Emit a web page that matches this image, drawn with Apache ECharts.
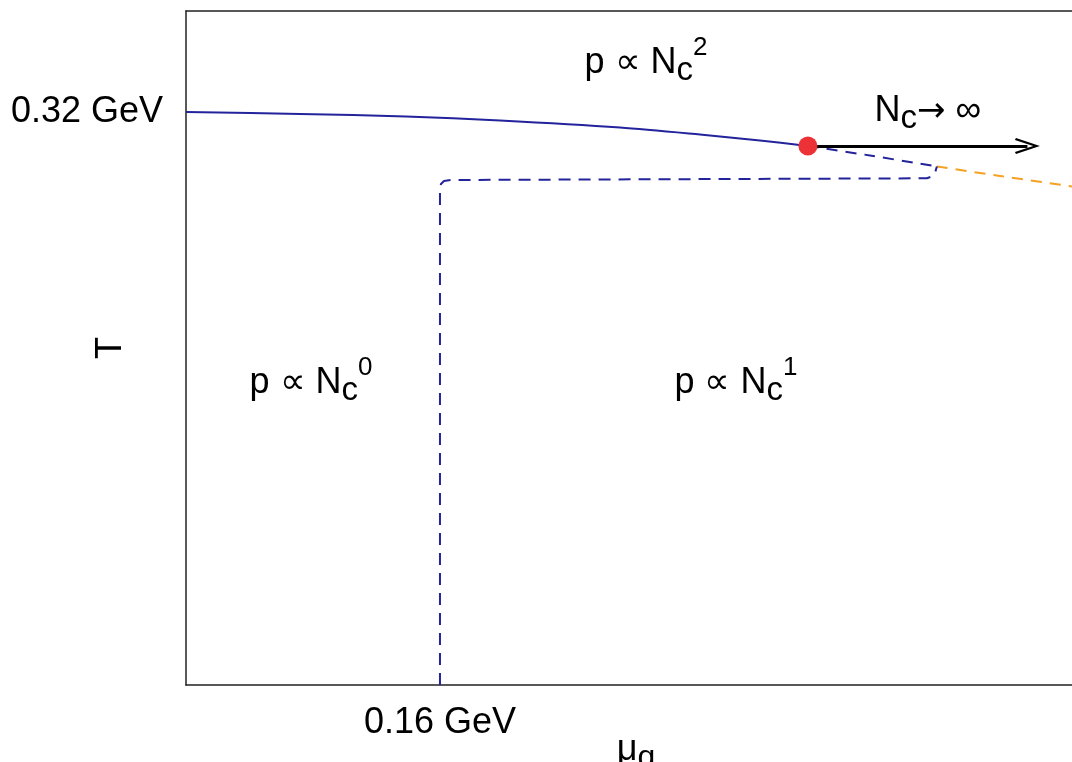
<!DOCTYPE html>
<html>
<head>
<meta charset="utf-8">
<title>Phase diagram at large Nc</title>
<script src="https://cdn.jsdelivr.net/npm/echarts@6/dist/echarts.min.js"></script>
<style>
  html, body { margin: 0; padding: 0; background: #ffffff; }
  #chart { width: 1072px; height: 762px; }
</style>
</head>
<body>
<div id="chart"></div>
<script>
// Axis scales (GeV)
const muMax = 0.567;
const tMax = 0.3764;
const xTickValue = 0.16;
const xTickLabel = '0.16 GeV';
const yTickValue = 0.32;
const yTickLabel = '0.32 GeV';

// Deconfinement crossover line, solid part (mu_q, T)
const crossoverMu = [0, 0.07181, 0.13858, 0.19780, 0.27339, 0.32378, 0.36157, 0.39181];
const crossoverT  = [0.32, 0.31888, 0.31749, 0.31526, 0.31135, 0.30744, 0.30409, 0.30102];

// Its dashed continuation beyond the critical point
const firstOrderMu = [0.39181, 0.43087, 0.47307];
const firstOrderT  = [0.30102, 0.29571, 0.28957];

// Further extension (orange)
const extensionMu = [0.47307, 0.51276, 0.55811, 0.56693];
const extensionT  = [0.28957, 0.28426, 0.27840, 0.27723];

// Quarkyonic boundary: vertical at mu_q = 0.16 GeV, then nearly flat
const quarkyonicMu = [0.16, 0.16, 0.16063, 0.16252, 0.16693, 0.46677, 0.46992, 0.47181, 0.47307];
const quarkyonicT  = [0, 0.27644, 0.27979, 0.28147, 0.28203, 0.28298, 0.28398, 0.28594, 0.28957];

// Critical point and the Nc -> infinity arrow
const criticalPoint = [0.39181, 0.30102];
const arrowEndMu = 0.5301;

// Region labels: [mu_q, T, text]
const regionLabels = [
  [0.2898, 0.34904, '{m|p \u221D N}{s|c}{u|2}'],
  [0.07874, 0.17033, '{m|p \u221D N}{s|c}{u|0}'],
  [0.34646, 0.17033, '{m|p \u221D N}{s|c}{u|1}'],
  [0.4674, 0.3222, '{m|N}{s|c}{a|\u2192}{m| \u221E}']
];

const zip = (xs, ys) => xs.map((x, i) => [x, ys[i]]);

const FONT = '"Liberation Sans", Arial, Helvetica, sans-serif';
const BLUE = '#23239c';
const ORANGE = '#f5a122';
const INK = '#000000';

const richStyles = {
  m: { fontSize: 36, fontFamily: FONT, color: INK, lineHeight: 42, padding: [14, 0, 0, 0], verticalAlign: 'top' },
  s: { fontSize: 33, fontFamily: FONT, color: INK, lineHeight: 42, padding: [23, 0, 0, 0], verticalAlign: 'top' },
  u: { fontSize: 26, fontFamily: FONT, color: INK, lineHeight: 30, padding: [4, 0, 0, 0], verticalAlign: 'top' },
  a: { fontSize: 34, fontFamily: '"DejaVu Sans", sans-serif', color: INK, lineHeight: 42, padding: [16, 0, 0, 0], verticalAlign: 'top' }
};

// Open arrowhead drawn as a thin chevron
const chevron = 'path://M0,23 L10,0 L20,23 L17.4,24 L10,6.5 L2.6,24 Z';

const chart = echarts.init(document.getElementById('chart'), null, { renderer: 'canvas' });

chart.setOption({
  animation: false,
  backgroundColor: '#ffffff',
  grid: { left: 186, top: 11, bottom: 77, right: -14, containLabel: false, outerBoundsMode: 'none' },
  xAxis: [
    {
      type: 'value', min: 0, max: muMax, interval: xTickValue,
      name: '{g|\u03BC}{q|q}', nameLocation: 'middle', nameGap: 47, nameMoveOverlap: false,
      nameTextStyle: {
        rich: {
          g: { fontSize: 36, fontFamily: FONT, color: INK, lineHeight: 40, verticalAlign: 'top', padding: [0, 0, 0, 0] },
          q: { fontSize: 32, fontFamily: FONT, color: INK, lineHeight: 40, verticalAlign: 'top', padding: [10, 0, 0, 0] }
        }
      },
      axisLine: { show: true, onZero: false, lineStyle: { color: '#222', width: 1.5 } },
      axisTick: { show: false },
      splitLine: { show: false },
      axisLabel: {
        margin: 20, fontSize: 36, fontFamily: FONT, color: INK,
        formatter: v => (Math.abs(v - xTickValue) < 1e-9 ? xTickLabel : '')
      }
    },
    {
      type: 'value', position: 'top', min: 0, max: muMax,
      axisLine: { show: true, onZero: false, lineStyle: { color: '#222', width: 1.5 } },
      axisTick: { show: false }, axisLabel: { show: false }, splitLine: { show: false }
    }
  ],
  yAxis: {
    type: 'value', min: 0, max: tMax, interval: yTickValue,
    name: 'T', nameLocation: 'middle', nameRotate: 90, nameGap: 57, nameMoveOverlap: false,
    nameTextStyle: { fontSize: 36, fontFamily: FONT, color: INK },
    axisLine: { show: true, onZero: false, lineStyle: { color: '#222', width: 1.5 } },
    axisTick: { show: false },
    splitLine: { show: false },
    axisLabel: {
      margin: 23, fontSize: 36, fontFamily: FONT, color: INK,
      formatter: v => (Math.abs(v - yTickValue) < 1e-9 ? yTickLabel : '')
    }
  },
  series: [
    {
      name: 'crossover', type: 'line', data: zip(crossoverMu, crossoverT),
      smooth: 0.3, showSymbol: false, symbol: 'none',
      lineStyle: { color: BLUE, width: 2, type: 'solid' }
    },
    {
      name: 'first order', type: 'line', data: zip(firstOrderMu, firstOrderT),
      smooth: 0.3, showSymbol: false, symbol: 'none',
      lineStyle: { color: BLUE, width: 2, type: [11, 8] }
    },
    {
      name: 'extension', type: 'line', data: zip(extensionMu, extensionT),
      smooth: 0.3, showSymbol: false, symbol: 'none',
      lineStyle: { color: ORANGE, width: 2, type: [11, 8] }
    },
    {
      name: 'quarkyonic', type: 'line', data: zip(quarkyonicMu, quarkyonicT),
      showSymbol: false, symbol: 'none',
      lineStyle: { color: BLUE, width: 2, type: [12, 8] }
    },
    {
      name: 'large Nc', type: 'line', data: [], symbol: 'none',
      markLine: {
        silent: true, animation: false,
        symbol: ['none', chevron], symbolSize: [16, 25],
        label: { show: false },
        lineStyle: { color: '#000', width: 3, type: 'solid' },
        data: [[{ coord: criticalPoint }, { coord: [arrowEndMu, criticalPoint[1]] }]]
      }
    },
    {
      name: 'critical point', type: 'scatter', data: [criticalPoint],
      symbol: 'circle', symbolSize: 19, z: 5,
      itemStyle: { color: '#ec3237', opacity: 1 }
    },
    {
      name: 'labels', type: 'scatter', data: regionLabels, symbolSize: 0, silent: true,
      itemStyle: { opacity: 1 },
      label: {
        show: true, position: 'inside', offset: [0, -8], color: INK, textBorderWidth: 0,
        formatter: p => p.data[2],
        rich: richStyles
      }
    }
  ]
});
</script>
</body>
</html>
